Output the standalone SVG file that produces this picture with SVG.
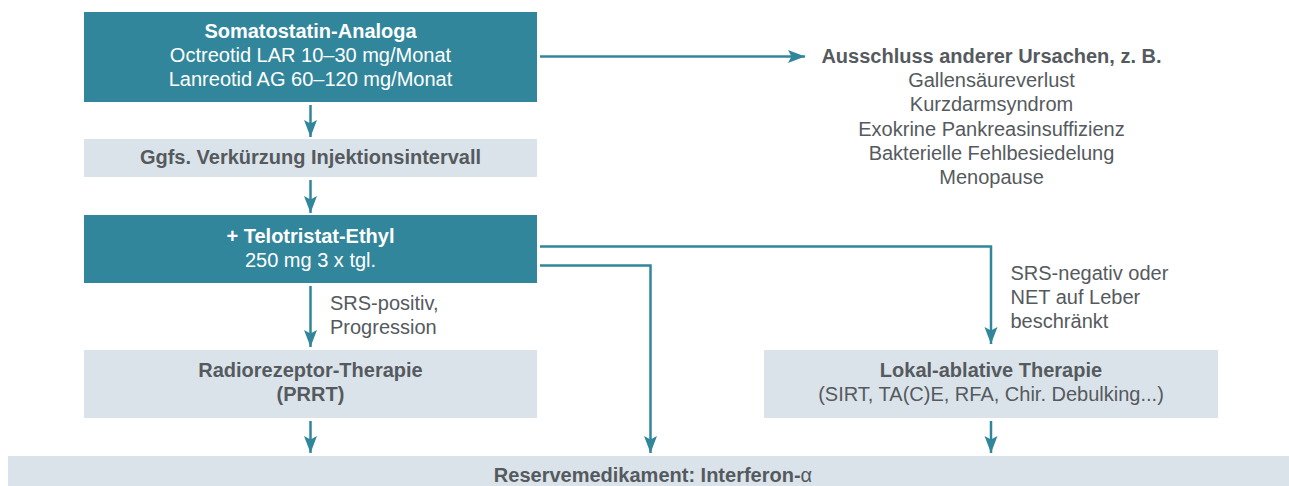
<svg xmlns="http://www.w3.org/2000/svg" width="1289" height="486" viewBox="0 0 1289 486">
<style>
  text { font-family: "Liberation Sans", Arial, Helvetica, sans-serif; font-size: 20px; }
  .teal { fill: #31869b; }
  .light { fill: #dbe3ea; }
  .w { fill: #ffffff; }
  .g { fill: #555a5e; }
  .b { font-weight: bold; }
  .c { text-anchor: middle; }
  .conn { fill: none; stroke: #31869b; stroke-width: 2.5; }
</style>
<defs>
  <marker id="ah" markerUnits="userSpaceOnUse" markerWidth="18" markerHeight="14" refX="17" refY="6.5" orient="auto">
    <path d="M0,0 L17,6.5 L0,13 L3.5,6.5 Z" fill="#31869b"/>
  </marker>
</defs>
<rect width="1289" height="486" fill="#ffffff"/>

<g id="n1">
  <rect class="teal" x="84" y="12" width="453" height="90"/>
  <text class="w b c" x="310.5" y="38">Somatostatin-Analoga</text>
  <text class="w c" x="310.5" y="62">Octreotid LAR 10–30 mg/Monat</text>
  <text class="w c" x="310.5" y="86">Lanreotid AG 60–120 mg/Monat</text>
</g>

<g id="n-ursachen">
  <text class="g b c" x="991.5" y="63">Ausschluss anderer Ursachen, z. B.</text>
  <text class="g c" x="991.5" y="87">Gallensäureverlust</text>
  <text class="g c" x="991.5" y="111">Kurzdarmsyndrom</text>
  <text class="g c" x="991.5" y="136">Exokrine Pankreasinsuffizienz</text>
  <text class="g c" x="991.5" y="160">Bakterielle Fehlbesiedelung</text>
  <text class="g c" x="991.5" y="184">Menopause</text>
</g>

<g id="n2">
  <rect class="light" x="84" y="139" width="453" height="38"/>
  <text class="g b c" x="310.5" y="164">Ggfs. Verkürzung Injektionsintervall</text>
</g>

<g id="n3">
  <rect class="teal" x="84" y="215" width="453" height="68"/>
  <text class="w b c" x="310.5" y="243">+ Telotristat-Ethyl</text>
  <text class="w c" x="310.5" y="267">250 mg 3 x tgl.</text>
</g>

<g id="n4">
  <rect class="light" x="84" y="350" width="453" height="68"/>
  <text class="g b c" x="310.5" y="377">Radiorezeptor-Therapie</text>
  <text class="g b c" x="310.5" y="401">(PRRT)</text>
</g>

<g id="n5">
  <rect class="light" x="764" y="350" width="454" height="68"/>
  <text class="g b c" x="991" y="377">Lokal-ablative Therapie</text>
  <text class="g c" x="991" y="401">(SIRT, TA(C)E, RFA, Chir. Debulking...)</text>
</g>

<g id="n6">
  <rect class="light" x="8" y="456" width="1281" height="30"/>
  <text class="g c" x="653" y="482"><tspan class="b">Reservemedikament: Interferon-</tspan>α</text>
</g>

<g id="connectors">
  <path class="conn" d="M540,56.5 H805" marker-end="url(#ah)"/>
  <path class="conn" d="M310.5,105 V137" marker-end="url(#ah)"/>
  <path class="conn" d="M310.5,180 V213" marker-end="url(#ah)"/>
  <path class="conn" d="M310.5,286 V347" marker-end="url(#ah)"/>
  <path class="conn" d="M310.5,421 V453" marker-end="url(#ah)"/>
  <path class="conn" d="M540,246.5 H991 V344" marker-end="url(#ah)"/>
  <path class="conn" d="M540,265.5 H650.5 V453" marker-end="url(#ah)"/>
  <path class="conn" d="M991,421 V453" marker-end="url(#ah)"/>
  <text class="g" x="330" y="310">SRS-positiv,</text>
  <text class="g" x="330" y="334">Progression</text>
  <text class="g" x="1010.5" y="280">SRS-negativ oder</text>
  <text class="g" x="1010.5" y="304">NET auf Leber</text>
  <text class="g" x="1010.5" y="328">beschränkt</text>
</g>
</svg>
